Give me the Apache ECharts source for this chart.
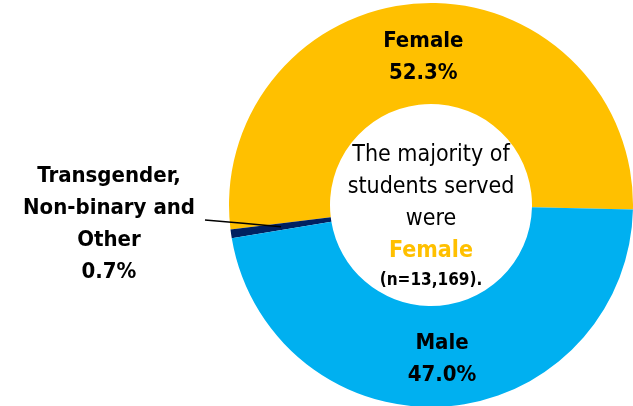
<!DOCTYPE html>
<html>
<head>
<meta charset="utf-8">
<script src="https://cdn.jsdelivr.net/npm/echarts@6/dist/echarts.min.js"></script>
<style>
  html, body { margin: 0; padding: 0; background: #fff; }
  #chart { width: 633px; height: 406px; }
</style>
</head>
<body>
<div id="chart"></div>
<script>
const categories = ['Female', 'Transgender,\nNon-binary and\nOther', 'Male'];
const shares = [52.3, 0.7, 47.0];
const colors = ['#FFC000', '#002060', '#00B0F0'];
const centerLines = ['The majority of', 'students served', 'were', 'Female', '(n=13,169).'];

const FONT = '"Liberation Sans Narrow", "Arial Narrow", "DejaVu Sans Condensed", sans-serif';
const cx = 431, cy = 205, rIn = 101, rOut = 202;

const labelText = {
  formatter: (p) => p.name + '\n' + p.value.toFixed(1) + '%',
  color: '#000',
  fontFamily: FONT,
  fontSize: 22,
  fontWeight: 'bold',
  lineHeight: 32,
  align: 'center',
};

const chart = echarts.init(document.getElementById('chart'));

chart.setOption({
  animation: false,
  graphic: [
    {
      type: 'text',
      x: cx,
      y: 217,
      z: 10,
      style: {
        text: [
          '{a|' + centerLines[0] + '}',
          '{a|' + centerLines[1] + '}',
          '{a|' + centerLines[2] + '}',
          '{b|' + centerLines[3] + '}',
          '{c|' + centerLines[4] + '}',
        ].join('\n'),
        align: 'center',
        verticalAlign: 'middle',
        rich: {
          a: { fontFamily: FONT, fontSize: 23, lineHeight: 32, fill: '#000' },
          b: { fontFamily: FONT, fontSize: 23, fontWeight: 'bold', lineHeight: 32, fill: '#FFC000' },
          c: { fontFamily: FONT, fontSize: 17, fontWeight: 'bold', lineHeight: 28, fill: '#000' },
        },
      },
    },
  ],
  series: [
    {
      // the ring with inside labels
      type: 'pie',
      z: 2,
      center: [cx, cy],
      radius: [rIn, rOut],
      clockwise: false,
      startAngle: -1.3,
      avoidLabelOverlap: false,
      data: categories.map((name, i) => ({
        name,
        value: shares[i],
        itemStyle: { color: colors[i] },
        label: i === 1 ? { show: false } : { position: 'inside', offset: i === 0 ? [0, 7] : [0, 0] },
        labelLine: { show: false },
      })),
      label: labelText,
    },
    {
      // transparent copy on top, only for the small slice's label and leader line
      type: 'pie',
      z: 3,
      silent: true,
      center: [cx, cy],
      radius: [rIn, rOut],
      clockwise: false,
      startAngle: -1.3,
      avoidLabelOverlap: false,
      itemStyle: { color: 'rgba(0,0,0,0)' },
      data: categories.map((name, i) => ({
        name,
        value: shares[i],
        label: { show: i === 1, position: 'outside' },
        labelLine: { show: i === 1, lineStyle: { color: '#000', width: 1.5 } },
      })),
      label: labelText,
      labelLayout: function (p) {
        if (p.dataIndex !== 1 || !p.labelLinePoints) return {};
        const p0 = p.labelLinePoints[0];
        const dx = p0[0] - cx, dy = p0[1] - cy;
        const len = Math.sqrt(dx * dx + dy * dy);
        const rMid = (rIn + rOut) / 2;
        const end = [cx + dx / len * rMid, cy + dy / len * rMid];
        const start = [205, 220];
        return {
          x: 109,
          y: 224,
          align: 'center',
          verticalAlign: 'middle',
          labelLinePoints: [start, [(start[0] + end[0]) / 2, (start[1] + end[1]) / 2], end],
        };
      },
    },
  ],
});
</script>
</body>
</html>
